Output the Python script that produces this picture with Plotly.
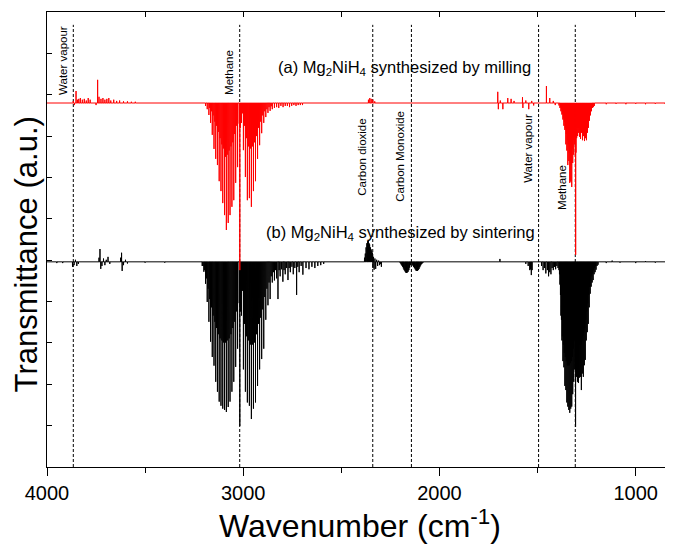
import plotly.graph_objects as go

# ---------------- data (wavenumber in cm-1, depth in a.u.; negative = upward spike) -------------
X_START, X_END = 4000, 800
RED_BASE = 8.80
BLACK_BASE = 4.96

# ---- (a) milling : red ----
red_noise_wn = [3866, 3860, 3852, 3845, 3838, 3830, 3820, 3810, 3800, 3790, 3780, 3750, 3742, 3735,
                3725, 3715, 3705, 3695, 3685, 3675, 3660, 3645, 3630, 3610, 3590, 3570, 3550]
red_noise_d = [-0.05, 0.05, -0.29, -0.08, -0.10, -0.12, -0.08, -0.10, -0.06, -0.12, -0.08, 0.05, -0.56, -0.15,
               -0.10, -0.12, -0.08, -0.10, -0.12, -0.06, -0.08, -0.05, -0.06, -0.04, -0.04, -0.03, -0.03]

red_v3_wn = [3192, 3183.5, 3175, 3166.5, 3157.8, 3149, 3140.2, 3131.4, 3122.5, 3113.4, 3104.4, 3095.2,
             3086, 3076.6, 3067.3, 3057.7, 3048.2, 3038.5, 3028.8,
             3020.5, 3017.5, 3014.5,
             3009, 2999.1, 2989, 2979, 2968.7, 2958.5, 2948, 2937.5, 2927, 2916.5, 2906, 2895.5, 2885,
             2874, 2863, 2852, 2841, 2830, 2819, 2808, 2797, 2786, 2775, 2764, 2753, 2742, 2731, 2720,
             2709, 2698]
red_v3_d = [0.07, 0.15, 0.29, 0.48, 0.77, 1.11, 1.35, 1.50, 1.89, 2.13, 2.42, 2.71,
            3.07, 2.90, 2.71, 2.51, 2.35, 1.93, 1.55,
            0.50, 4.04, 0.60,
            0.48, 1.14, 1.79, 2.35, 2.30, 2.51, 2.13, 1.89, 1.35, 1.02, 0.73, 0.48, 0.34,
            0.24, 0.19, 0.15, 0.12, 0.10, 0.12, 0.07, 0.10, 0.07, 0.07, 0.10, 0.07, 0.05, 0.07, 0.05,
            0.05, 0.05]

red_v3_weak_wn = [3170.8, 3162, 3153.4, 3144.6, 3135.8, 3127, 3118, 3109, 3099.8, 3090.6, 3081.3, 3072,
                  3062.5, 3053, 3043.3, 3033.5,
                  3004, 2994, 2984, 2974, 2963.6, 2953.3, 2942.8, 2932.3, 2921.8, 2911.3, 2900.8, 2890.3,
                  2879.5, 2868.5, 2857.5]
red_v3_weak_d = [0.12, 0.2, 0.3, 0.45, 0.55, 0.7, 0.85, 1.0, 1.1, 1.3, 1.25, 1.15,
                 1.05, 0.95, 0.75, 0.55,
                 0.25, 0.55, 0.85, 1.05, 1.1, 1.05, 0.95, 0.8, 0.6, 0.45, 0.3, 0.2,
                 0.15, 0.1, 0.08]

red_misc_wn = [2362, 2355, 2348, 2340, 2330, 1703, 1700, 1690, 1677, 1652, 1635, 1620,
               1577, 1575, 1560, 1545, 1530, 1520, 1455, 1438, 1420, 1410]
red_misc_d = [-0.08, -0.12, -0.10, -0.08, -0.04, -0.27, 0.15, -0.06, 0.15, -0.12, -0.10, -0.05,
              -0.14, 0.12, -0.06, 0.15, -0.05, 0.06, -0.41, -0.12, -0.05, 0.05]

red_v4_wn = [1391, 1386, 1381, 1376, 1371, 1366, 1361, 1356, 1351, 1346, 1341, 1336, 1331, 1326, 1321,
             1316, 1311, 1307.5, 1306, 1304.5,
             1301, 1296, 1291, 1286, 1281, 1276, 1271, 1266, 1261, 1256, 1251, 1246, 1241, 1236, 1231,
             1226, 1221, 1216, 1211]
red_v4_d = [0.06, 0.12, 0.2, 0.28, 0.4, 0.55, 0.65, 1.0, 1.15, 1.5, 1.4, 1.93, 1.9, 2.03, 1.45,
            1.25, 1.0, 1.3, 3.67, 1.2,
            0.85, 0.8, 0.72, 0.82, 0.87, 0.72, 0.9, 0.8, 0.92, 0.85, 0.9, 0.72, 0.6, 0.43, 0.3,
            0.2, 0.12, 0.1, 0.07]

red_v4_weak_wn = [1383.5, 1378.5, 1373.5, 1368.5, 1363.5, 1358.5, 1353.5, 1348.5, 1343.5, 1338.5, 1333.5,
                  1328.5, 1323.5, 1318.5, 1313.5,
                  1298.5, 1293.5, 1288.5, 1283.5, 1278.5, 1273.5, 1268.5, 1263.5, 1258.5, 1253.5, 1248.5,
                  1243.5, 1238.5, 1233.5, 1228.5, 1223.5]
red_v4_weak_d = [0.1, 0.15, 0.25, 0.35, 0.45, 0.6, 0.75, 0.9, 1.0, 1.2, 1.4,
                 1.5, 1.1, 0.9, 0.8,
                 0.6, 0.58, 0.6, 0.6, 0.58, 0.6, 0.6, 0.6, 0.6, 0.58, 0.55,
                 0.45, 0.35, 0.25, 0.15, 0.1]

red_tail_wn = [1150, 1100, 1050, 1000, 950, 900, 850]
red_tail_d = [0.03, 0.02, 0.03, 0.02, 0.03, 0.02, 0.02]

# ---- (b) sintering : black ----
black_noise_wn = [3950, 3920, 3870, 3862, 3855, 3848, 3840, 3735, 3730, 3726, 3720, 3712, 3705, 3698,
                  3689, 3680, 3625, 3620, 3617, 3610, 3600, 3590, 3500, 3400]
black_noise_d = [0.03, 0.03, 0.12, 0.08, -0.05, 0.10, 0.05, -0.10, -0.31, 0.17, 0.10, -0.08, 0.08, -0.05,
                 -0.12, 0.05, -0.10, -0.22, 0.22, 0.08, -0.05, 0.04, 0.02, 0.02]

black_v3_wn = [3209, 3200.5, 3192, 3183.5, 3175, 3166.5, 3157.8, 3149, 3140.2, 3131.4, 3122.5, 3113.4,
               3104.4, 3095.2, 3086, 3076.6, 3067.3, 3057.7, 3048.2, 3038.5, 3028.8,
               3020.5, 3017.5, 3014.5,
               3009, 2999.1, 2989, 2979, 2968.7, 2958.5, 2948, 2937.5, 2927, 2916.5, 2906, 2895.5, 2885,
               2874, 2863, 2852, 2841, 2830, 2823, 2812, 2798, 2786, 2772, 2760, 2745, 2728, 2715, 2696,
               2680, 2665, 2650, 2635, 2620, 2605, 2590]
black_v3_d = [0.10, 0.24, 0.53, 0.97, 1.45, 1.93, 2.30, 2.51, 2.90, 3.14, 3.38, 3.48,
              3.55, 3.58, 3.63, 3.51, 3.38, 3.14, 2.90, 2.54, 2.10,
              1.00, 3.97, 1.20,
              1.30, 2.60, 3.14, 3.40, 3.48, 3.80, 3.55, 3.40, 3.00, 2.60, 2.35, 2.10, 1.40,
              1.05, 0.90, 0.50, 0.45, 0.40, 0.90, 0.35, 0.48, 0.30, 0.44, 0.25, 0.30, 0.80, 0.25, 0.31,
              0.15, 0.18, 0.12, 0.15, 0.10, 0.08, 0.05]

black_v3_weak_wn = [3205, 3196.3, 3187.8, 3179.3, 3170.8, 3162, 3153.4, 3144.6, 3135.8, 3127, 3118, 3109,
                    3099.8, 3090.6, 3081.3, 3072, 3062.5, 3053, 3043.3, 3033.5,
                    3004, 2994, 2984, 2974, 2963.6, 2953.3, 2942.8, 2932.3, 2921.8, 2911.3, 2900.8, 2890.3,
                    2879.5, 2868.5, 2857.5, 2846.5, 2835.5, 2817, 2805, 2792, 2779, 2766, 2752, 2737, 2722,
                    2705]
black_v3_weak_d = [0.1, 0.2, 0.4, 0.65, 0.9, 1.1, 1.3, 1.45, 1.6, 1.75, 1.85, 1.9,
                   1.95, 1.95, 1.9, 1.85, 1.75, 1.6, 1.45, 1.2,
                   0.7, 1.5, 1.8, 1.9, 2.0, 2.0, 1.95, 1.75, 1.5, 1.35, 1.15, 0.85,
                   0.65, 0.5, 0.35, 0.25, 0.2, 0.2, 0.18, 0.2, 0.15, 0.15, 0.12, 0.15, 0.12,
                   0.1]

black_co2_wn = [2382, 2378, 2374, 2370, 2366, 2362, 2359, 2356, 2352, 2348, 2345, 2342, 2339, 2336, 2333,
                2329, 2325, 2320, 2315, 2310, 2305, 2300, 2296]
black_co2_d = [-0.10, -0.20, -0.35, -0.45, -0.50, -0.51, -0.45, -0.42, -0.35, -0.30, -0.25, -0.22, 0.15,
               -0.12, 0.19, -0.08, 0.17, -0.05, 0.10, -0.03, 0.08, 0.05, 0.12]

black_co_wn = [2200, 2196, 2192, 2188, 2184, 2180, 2176, 2172, 2168, 2164, 2160, 2156, 2152, 2148, 2144,
               2140, 2136, 2132, 2128, 2124, 2120, 2116, 2112, 2108, 2104, 2100, 2096, 2092, 2088, 2084]
black_co_d = [0.03, 0.06, 0.09, 0.12, 0.16, 0.20, 0.23, 0.26, 0.27, 0.26, 0.24, 0.20, 0.14, 0.08, 0.04,
              0.06, 0.09, 0.12, 0.15, 0.18, 0.21, 0.22, 0.22, 0.20, 0.17, 0.13, 0.09, 0.06, 0.04, 0.02]

black_water_wn = [1692, 1560, 1548, 1540, 1536, 1532, 1528, 1480, 1472, 1465, 1458, 1450, 1444, 1438,
                  1432, 1426, 1420, 1414, 1408, 1402, 1396]
black_water_d = [-0.07, 0.05, 0.10, 0.20, 0.18, 0.32, 0.20, 0.10, 0.20, 0.15, 0.28, 0.20, 0.35, 0.25,
                 0.30, 0.15, 0.20, 0.12, 0.18, 0.10, 0.15]

black_v4_wn = [1391, 1386, 1381, 1376, 1371, 1366, 1361, 1356, 1351, 1346, 1341, 1336, 1331, 1326, 1321,
               1316, 1311, 1306.5,
               1302, 1297, 1292, 1287, 1282, 1277, 1272, 1267, 1262, 1257, 1252, 1247, 1242, 1237, 1232,
               1227, 1222, 1217, 1212, 1207, 1202, 1197, 1192]
black_v4_d = [0.2, 0.55, 1.3, 1.9, 2.4, 2.55, 3.0, 3.1, 3.4, 3.5, 3.58, 3.65, 3.55, 3.5, 3.2,
              2.9, 2.6, 3.99,
              2.78, 2.9, 2.93, 2.8, 2.78, 3.1, 2.7, 2.78, 2.5, 2.37, 1.9, 1.7, 1.5, 1.1, 0.77,
              0.6, 0.5, 0.44, 0.3, 0.25, 0.19, 0.1, 0.07]

black_v4_weak_wn = [1388.5, 1383.5, 1378.5, 1373.5, 1368.5, 1363.5, 1358.5, 1353.5, 1348.5, 1343.5, 1338.5,
                    1333.5, 1328.5, 1323.5, 1318.5, 1313.5, 1308.5,
                    1304, 1299.5, 1294.5, 1289.5, 1284.5, 1279.5, 1274.5, 1269.5, 1264.5, 1259.5, 1254.5,
                    1249.5, 1244.5, 1239.5, 1234.5, 1229.5, 1224.5, 1219.5, 1214.5, 1209.5, 1204.5]
black_v4_weak_d = [0.3, 0.8, 1.4, 1.8, 2.0, 2.2, 2.3, 2.4, 2.5, 2.5, 2.5,
                   2.45, 2.4, 2.3, 2.1, 1.9, 1.6,
                   1.5, 2.0, 2.0, 2.0, 1.95, 2.0, 1.9, 1.8, 1.7, 1.6, 1.4,
                   1.2, 1.0, 0.8, 0.6, 0.45, 0.35, 0.28, 0.2, 0.15, 0.1]

black_tail_wn = [1150, 1120, 1080, 1000, 950, 900]
black_tail_d = [0.03, -0.03, 0.02, 0.03, -0.02, 0.02]

# reference band positions (dashed markers) and labels
band_wn = [3866, 3018, 2340, 2143, 1495, 1308]
band_labels = ["Water vapour", "Methane", "Carbon dioxide", "Carbon Monoxide", "Water vapour", "Methane"]
label_wn = [3918, 3073, 2395, 2202, 1550, 1376]
label_y = [9.82, 9.55, 7.50, 7.52, 7.71, 6.77]
MARKER_TOP = 10.69

series_names = ["(a) Mg<sub>2</sub>NiH<sub>4</sub> synthesized by milling",
                "(b) Mg<sub>2</sub>NiH<sub>4</sub> synthesized by sintering"]
series_label_wn = [2176, 2197]
series_label_y = [9.65, 5.66]

x_ticks = [4000, 3000, 2000, 1000]
x_title = "Wavenumber (cm<sup>-1</sup>)"
y_title = "Transmittance (a.u.)"


def build(base, wn_lists, d_lists, hw=0.5):
    pairs = []
    for wl, dl in zip(wn_lists, d_lists):
        pairs.extend(zip(wl, dl))
    pairs.sort(key=lambda p: -p[0])
    xs, ys = [X_START], [base]
    for w, d in pairs:
        xs += [w + hw, w, w - hw]
        ys += [base, base - d, base]
    xs.append(X_END)
    ys.append(base)
    return xs, ys


bx, by = build(BLACK_BASE,
               [black_noise_wn, black_v3_wn, black_v3_weak_wn, black_co2_wn, black_co_wn,
                black_water_wn, black_v4_wn, black_v4_weak_wn, black_tail_wn],
               [black_noise_d, black_v3_d, black_v3_weak_d, black_co2_d, black_co_d,
                black_water_d, black_v4_d, black_v4_weak_d, black_tail_d])
rx, ry = build(RED_BASE,
               [red_noise_wn, red_v3_wn, red_v3_weak_wn, red_misc_wn, red_v4_wn, red_v4_weak_wn, red_tail_wn],
               [red_noise_d, red_v3_d, red_v3_weak_d, red_misc_d, red_v4_d, red_v4_weak_d, red_tail_d])

FONT = "Arial, Liberation Sans, sans-serif"

fig = go.Figure()
fig.add_trace(go.Scatter(x=bx, y=by, mode="lines", name="sintering",
                         line=dict(color="#000000", width=1, simplify=False), hoverinfo="skip"))
fig.add_trace(go.Scatter(x=rx, y=ry, mode="lines", name="milling", xaxis="x2",
                         line=dict(color="#ff0000", width=1, simplify=False), hoverinfo="skip"))

for w in band_wn:
    fig.add_shape(type="line", xref="x", yref="y", x0=w, x1=w, y0=0, y1=MARKER_TOP,
                  line=dict(color="black", width=1, dash="3px,2px"), layer="below")

for txt, w, yv in zip(band_labels, label_wn, label_y):
    fig.add_annotation(x=w, y=yv, xref="x", yref="y", text=txt, textangle=-90, showarrow=False,
                       xanchor="center", yanchor="middle",
                       font=dict(family=FONT, size=11.5, color="black"))

for txt, w, yv in zip(series_names, series_label_wn, series_label_y):
    fig.add_annotation(x=w, y=yv, xref="x", yref="y", text=txt, showarrow=False,
                       xanchor="center", yanchor="middle",
                       font=dict(family=FONT, size=16.5, color="black"))

# y-axis title (placed slightly below the plot-area centre, as in the reference)
fig.add_annotation(x=-0.033, y=0.468, xref="paper", yref="paper", text=y_title, textangle=-90,
                   showarrow=False, xanchor="center", yanchor="middle", borderpad=0,
                   font=dict(family=FONT, size=31, color="black"))

XR = [4000, 810]
# page body adds an 8px margin, so the figure is sized to fit the remaining window area
fig.update_layout(
    width=665, height=536,
    margin=dict(l=39, r=0, t=4, b=77, autoexpand=False),
    paper_bgcolor="white", plot_bgcolor="white",
    showlegend=False,
    font=dict(family=FONT, color="black"),
    xaxis=dict(range=XR, tickvals=x_ticks, ticks="outside", ticklen=8, tickwidth=1, tickcolor="black",
               showline=True, linecolor="black", linewidth=1, showgrid=False, zeroline=False,
               automargin=False,
               tickfont=dict(family=FONT, size=20, color="black"),
               minor=dict(dtick=500, tick0=0, ticks="outside", ticklen=5, tickcolor="black", showgrid=False),
               title=dict(text=x_title, font=dict(family=FONT, size=32, color="black"), standoff=0)),
    xaxis2=dict(range=XR, overlaying="x", side="top", ticks="inside", dtick=500, tick0=0, ticklen=5,
                tickcolor="black", showticklabels=False, showline=True, linecolor="black", linewidth=1,
                showgrid=False, zeroline=False, automargin=False),
    yaxis=dict(range=[0, 11], dtick=1, tick0=0, ticks="inside", ticklen=5, tickcolor="black",
               showticklabels=False, showline=True, linecolor="black", linewidth=1, showgrid=False,
               zeroline=False, automargin=False),
)

fig.write_html("out.html")
